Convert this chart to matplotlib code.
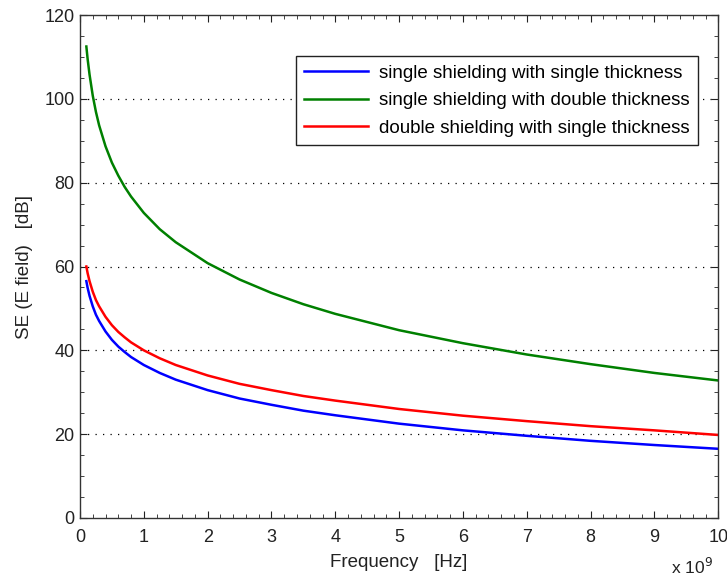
import matplotlib
matplotlib.use('Agg')
import matplotlib.pyplot as plt
from matplotlib.ticker import MultipleLocator, FuncFormatter

# frequency in GHz (axis shows x 10^9 Hz)
freq_ghz = [0.1, 0.12, 0.15, 0.2, 0.25, 0.3, 0.4, 0.5, 0.6, 0.7, 0.8, 1.0, 1.25, 1.5,
            2.0, 2.5, 3.0, 3.5, 4.0, 5.0, 6.0, 7.0, 8.0, 9.0, 10.0]

se_single_single = [56.5, 54.9, 53.0, 50.5, 48.5, 47.0, 44.5, 42.5, 40.9, 39.6, 38.4, 36.5, 34.6, 33.0,
                    30.5, 28.5, 27.0, 25.6, 24.5, 22.5, 20.9, 19.6, 18.4, 17.4, 16.5]
se_single_double = [112.5, 109.5, 105.8, 100.8, 96.9, 93.7, 88.7, 84.8, 81.7, 79.0, 76.7, 72.8, 68.9, 65.8,
                    60.8, 56.9, 53.7, 51.0, 48.7, 44.8, 41.7, 39.0, 36.7, 34.6, 32.8]
se_double_single = [60.0, 58.4, 56.5, 54.0, 52.0, 50.5, 48.0, 46.0, 44.4, 43.1, 41.9, 40.0, 38.1, 36.5,
                    34.0, 32.0, 30.5, 29.1, 28.0, 26.0, 24.4, 23.1, 21.9, 20.9, 19.8]

labels = ['single shielding with single thickness',
          'single shielding with double thickness',
          'double shielding with single thickness']

plt.rcParams['font.family'] = ['Liberation Sans', 'DejaVu Sans']
plt.rcParams['font.size'] = 13

fig = plt.figure(figsize=(7.27, 5.80), dpi=100)
ax = fig.add_axes([0.110, 0.107, 0.878, 0.867])

hz = [f * 1e9 for f in freq_ghz]
ax.plot(hz, se_single_single, color=(0, 0, 1), lw=1.8, label=labels[0])
ax.plot(hz, se_single_double, color=(0, 0.5, 0), lw=1.8, label=labels[1])
ax.plot(hz, se_double_single, color=(1, 0, 0), lw=1.8, label=labels[2])

ax.set_xlim(0, 10e9)
ax.set_ylim(0, 120)
ax.xaxis.set_major_locator(MultipleLocator(1e9))
ax.xaxis.set_minor_locator(MultipleLocator(0.2e9))
ax.yaxis.set_major_locator(MultipleLocator(20))
ax.yaxis.set_minor_locator(MultipleLocator(5))
ax.xaxis.set_major_formatter(FuncFormatter(lambda v, p: '%g' % (v / 1e9)))

ax.tick_params(which='both', direction='in', top=True, right=True, colors='#222222', labelsize=13)
ax.tick_params(which='major', length=5, pad=4)
ax.tick_params(axis='x', which='major', pad=8)
ax.tick_params(which='minor', length=3)
for s in ax.spines.values():
    s.set_color('#333333')
    s.set_linewidth(1.0)

# dotted horizontal grid at interior ticks
for yv in [20, 40, 60, 80, 100]:
    ax.axhline(yv, color='black', linestyle=(0, (1, 5)), lw=0.9, zorder=0)

ax.set_xlabel('Frequency   [Hz]', fontsize=13.5, color='#222222', labelpad=6)
ax.set_ylabel('SE (E field)   [dB]', fontsize=13.5, color='#222222', labelpad=8)
fig.text(0.980, 0.006, 'x 10$^9$', ha='right', va='bottom', fontsize=12.5, color='#222222')

leg = ax.legend(loc='upper right', bbox_to_anchor=(0.969, 0.918), borderaxespad=0,
                fancybox=False, edgecolor='#222222', framealpha=1, fontsize=13.5,
                handlelength=3.4, borderpad=0.45, labelspacing=0.55, handletextpad=0.6)
leg.get_frame().set_linewidth(1.0)

fig.savefig('out.png', dpi=100)
